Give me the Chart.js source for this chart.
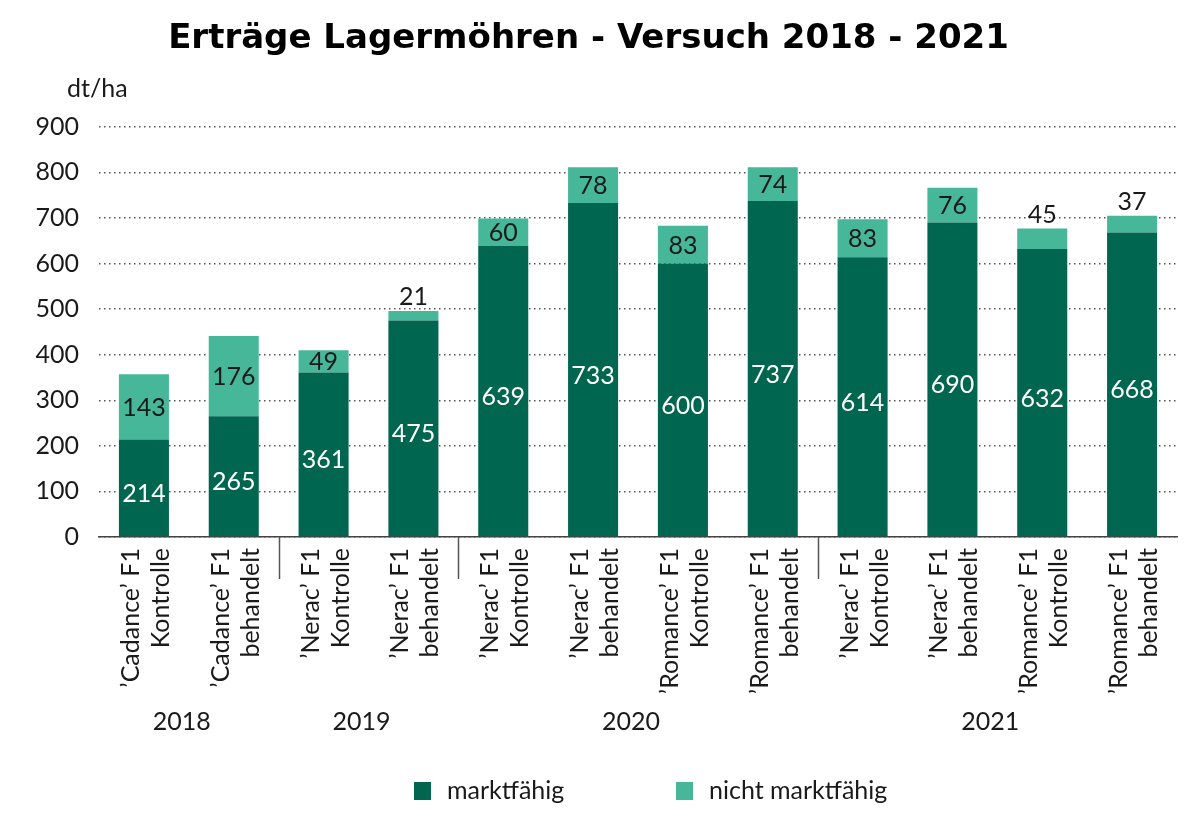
<!DOCTYPE html>
<html lang="de">
<head>
<meta charset="utf-8">
<title>Erträge Lagermöhren - Versuch 2018 - 2021</title>
<script src="https://cdn.jsdelivr.net/npm/chart.js@4/dist/chart.umd.min.js"></script>
<style>
    html, body { margin: 0; padding: 0; background: #fff; }
    #wrap { width: 1200px; height: 827px; }
</style>
</head>
<body>
<div id="wrap"><canvas id="chart" width="1200" height="827"></canvas></div>
<script>
const categories = [
    ["’Cadance’ F1", "Kontrolle"], ["’Cadance’ F1", "behandelt"],
    ["’Nerac’ F1", "Kontrolle"], ["’Nerac’ F1", "behandelt"],
    ["’Nerac’ F1", "Kontrolle"], ["’Nerac’ F1", "behandelt"],
    ["’Romance’ F1", "Kontrolle"], ["’Romance’ F1", "behandelt"],
    ["’Nerac’ F1", "Kontrolle"], ["’Nerac’ F1", "behandelt"],
    ["’Romance’ F1", "Kontrolle"], ["’Romance’ F1", "behandelt"]
];
const marktfaehig = [214, 265, 361, 475, 639, 733, 600, 737, 614, 690, 632, 668];
const nichtMarktfaehig = [143, 176, 49, 21, 60, 78, 83, 74, 83, 76, 45, 37];
// years with the index range of their categories
const years = [
    { label: "2018", from: 0, to: 1 },
    { label: "2019", from: 2, to: 3 },
    { label: "2020", from: 4, to: 7 },
    { label: "2021", from: 8, to: 11 }
];
const yTicks = [0, 100, 200, 300, 400, 500, 600, 700, 800, 900];

const DARK = "#00664f";
const LIGHT = "#47b799";
const TEXT = "#1a1a1a";
const FONT = "Lato, 'Open Sans', sans-serif";

Chart.defaults.font.family = FONT;
Chart.defaults.font.size = 25;
Chart.defaults.color = TEXT;

const valueLabels = {
    id: "valueLabels",
    afterDatasetsDraw(chart) {
        const ctx = chart.ctx;
        ctx.save();
        ctx.font = "25px " + FONT;
        ctx.textAlign = "center";
        ctx.textBaseline = "middle";
        chart.data.datasets.forEach((ds, di) => {
            const meta = chart.getDatasetMeta(di);
            meta.data.forEach((bar, i) => {
                const v = ds.data[i];
                const mid = (bar.y + bar.base) / 2;
                if (di === 0) {
                    ctx.fillStyle = "#ffffff";
                    ctx.fillText(v, bar.x, mid + 6);
                } else {
                    ctx.fillStyle = TEXT;
                    if (v < 47) {
                        ctx.fillText(v, bar.x, bar.y - 14);
                    } else {
                        ctx.fillText(v, bar.x, mid + 1);
                    }
                }
            });
        });
        ctx.restore();
    }
};

const decorations = {
    id: "decorations",
    afterDraw(chart) {
        const ctx = chart.ctx;
        const x = chart.scales.x;
        const area = chart.chartArea;
        const half = (x.getPixelForValue(1) - x.getPixelForValue(0)) / 2;
        ctx.save();

        // unit label
        ctx.font = "25px " + FONT;
        ctx.fillStyle = TEXT;
        ctx.textAlign = "left";
        ctx.textBaseline = "middle";
        ctx.fillText("dt/ha", 67, area.top - 38);

        // group separators
        ctx.strokeStyle = "#555";
        ctx.lineWidth = 1.5;
        years.slice(1).forEach(y => {
            const px = Math.round(x.getPixelForValue(y.from) - half) + 0.5;
            ctx.beginPath();
            ctx.moveTo(px, area.bottom);
            ctx.lineTo(px, area.bottom + 42);
            ctx.stroke();
        });

        // year labels
        ctx.textAlign = "center";
        years.forEach(y => {
            const cx = (x.getPixelForValue(y.from) + x.getPixelForValue(y.to)) / 2 - 7;
            ctx.fillText(y.label, cx, area.bottom + 185);
        });

        // legend
        const items = [
            { text: chart.data.datasets[0].label, color: DARK, x: 414 },
            { text: chart.data.datasets[1].label, color: LIGHT, x: 676 }
        ];
        items.forEach(it => {
            ctx.fillStyle = it.color;
            ctx.fillRect(it.x, 782, 17, 18);
            ctx.fillStyle = TEXT;
            ctx.textAlign = "left";
            ctx.fillText(it.text, it.x + 33, 791);
        });
        ctx.restore();
    }
};

new Chart(document.getElementById("chart"), {
    type: "bar",
    data: {
        labels: categories,
        datasets: [
            { label: "marktfähig", data: marktfaehig, backgroundColor: DARK },
            { label: "nicht marktfähig", data: nichtMarktfaehig, backgroundColor: LIGHT }
        ]
    },
    options: {
        responsive: false,
        animation: false,
        datasets: { bar: { barPercentage: 0.557, categoryPercentage: 1 } },
        layout: { padding: { left: 0, right: 23, top: 0, bottom: 0 } },
        plugins: {
            legend: { display: false },
            tooltip: { enabled: false },
            title: {
                display: true,
                text: "Erträge Lagermöhren - Versuch 2018 - 2021",
                font: { family: "'DejaVu Sans', sans-serif", size: 34, weight: "bold" },
                color: "#000",
                padding: { top: 19, bottom: 67 }
            }
        },
        scales: {
            x: {
                stacked: true,
                grid: { display: false },
                border: { display: true, color: "#444", width: 1.5 },
                ticks: { minRotation: 90, maxRotation: 90, padding: 3, labelOffset: -13, color: TEXT, autoSkip: false },
                afterFit: scale => { scale.height = 290; }
            },
            y: {
                stacked: true,
                min: 0,
                max: 900,
                afterBuildTicks: scale => { scale.ticks = yTicks.map(v => ({ value: v })); },
                grid: { color: "#555", lineWidth: 1.5, drawTicks: false },
                border: { display: false, dash: [1.5, 3.5] },
                ticks: { padding: 20, color: TEXT },
                afterFit: scale => { scale.width = 99; }
            }
        }
    },
    plugins: [valueLabels, decorations]
});
</script>
</body>
</html>
